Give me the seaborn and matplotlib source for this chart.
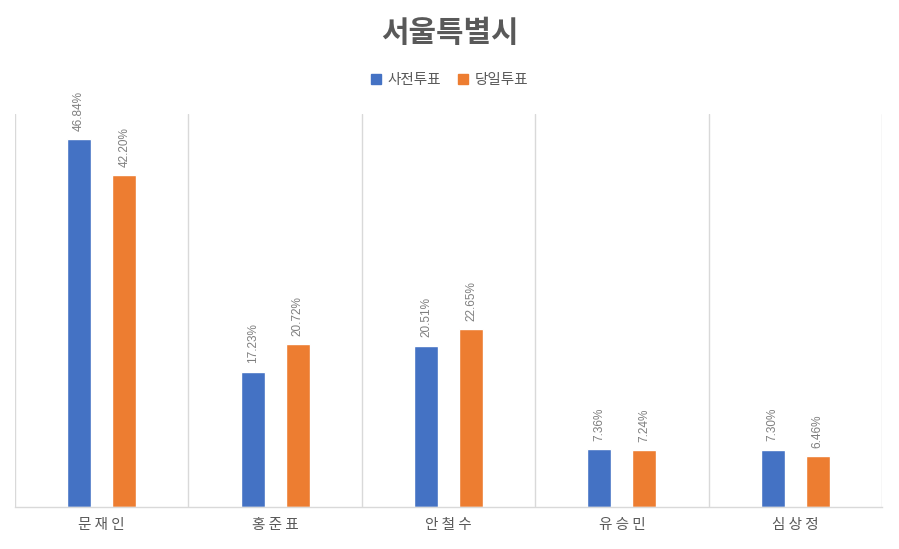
import matplotlib
matplotlib.use("Agg")
import matplotlib.pyplot as plt
import seaborn as sns
import pandas as pd

# 데이터
candidates = ["문재인", "홍준표", "안철수", "유승민", "심상정"]
early_vote = [46.84, 17.23, 20.51, 7.36, 7.30]
day_vote = [42.20, 20.72, 22.65, 7.24, 6.46]
series_names = ["사전투표", "당일투표"]
colors = ["#4472C4", "#ED7D31"]

df = pd.DataFrame({
    "후보": candidates * 2,
    "득표율": early_vote + day_vote,
    "구분": [series_names[0]] * len(candidates) + [series_names[1]] * len(candidates),
})

sns.set_theme(style="white")
plt.rcParams["font.family"] = ["Noto Sans CJK KR", "DejaVu Sans"]

fig = plt.figure(figsize=(8.99, 5.49), dpi=100)
ax = fig.add_axes([15 / 899, 1 - 507 / 549, 867 / 899, 393 / 549])

sns.barplot(data=df, x="후보", y="득표율", hue="구분", palette=colors,
            width=0.52, gap=0.47, ax=ax, legend=False, saturation=1)

# 데이터 레이블
for cont in ax.containers:
    ax.bar_label(cont, labels=[f"{v:.2f}%" for v in cont.datavalues],
                 rotation=90, padding=6, fontsize=8.5, color="#7F7F7F",
                 family=["Liberation Sans", "DejaVu Sans"])

ax.set_ylim(0, 50)
ax.set_xlim(-0.5, len(candidates) - 0.5)
ax.set_yticks([])
ax.set_xlabel("")
ax.set_ylabel("")

# 세로 격자선 (카테고리 경계)
for i in range(len(candidates) + 1):
    ax.axvline(i - 0.5, color="#D9D9D9", linewidth=1, zorder=0)

for side in ["top", "left", "right"]:
    ax.spines[side].set_visible(False)
ax.spines["bottom"].set_color("#D9D9D9")
ax.spines["bottom"].set_linewidth(1)

ax.tick_params(axis="x", length=0, pad=8, labelsize=10.5, labelcolor="#595959")
ax.set_xticks(range(len(candidates)))
ax.set_xticklabels([" ".join(c) for c in candidates])

fig.text(0.5, 1 - 33 / 549, "서울특별시", ha="center", va="center",
         fontsize=21.5, fontweight="bold", color="#595959")

handles = [plt.Rectangle((0, 0), 1, 1, color=c) for c in colors]
fig.legend(handles, series_names, loc="center", bbox_to_anchor=(0.5, 1 - 80 / 549),
           ncol=2, frameon=False, fontsize=10.5, labelcolor="#595959",
           handlelength=0.7, handleheight=0.7, handletextpad=0.4, columnspacing=1.2)

fig.savefig("out.png", dpi=100)
